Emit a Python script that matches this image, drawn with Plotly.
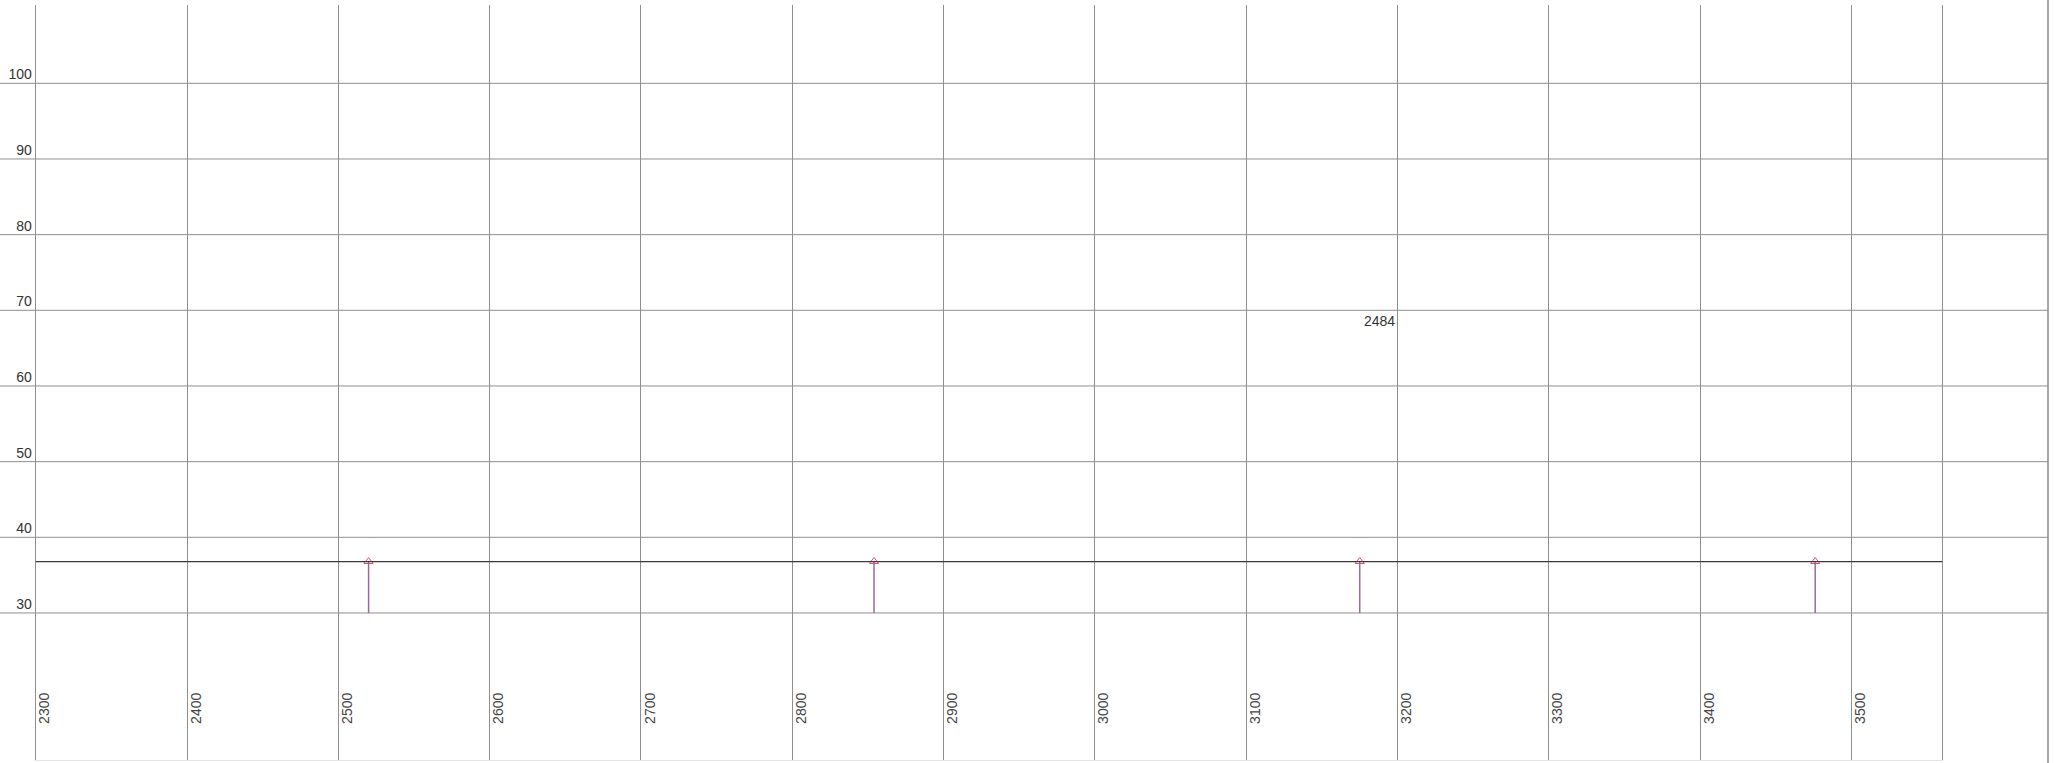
import plotly.graph_objects as go

# Frequency axis (cm-1) and intensity axis ticks
x_ticks = [2300, 2400, 2500, 2600, 2700, 2800, 2900, 3000, 3100, 3200, 3300, 3400, 3500]
x_range = [2300, 3560]
y_ticks = [30, 40, 50, 60, 70, 80, 90, 100]
y_range = [10.57, 110.35]

# Detected peaks: position and height, drawn as stems from the baseline
peak_x = [2520, 2854, 3175, 3476]
peak_y = [36.8, 36.8, 36.8, 36.8]
baseline = 30
threshold = 36.8

# Label shown in the panel
note_text = "2484"
note_x = 3200
note_y = 70

W, H = 2056, 763
FONT = "Liberation Sans, Arial, sans-serif"
GRID = "#8f8f8f"

fig = go.Figure()

fig.add_trace(go.Scatter(
    x=peak_x,
    y=peak_y,
    mode="markers",
    marker=dict(symbol="triangle-up-open", size=8, color="#d9546e",
                line=dict(width=1, color="#d9546e")),
    error_y=dict(type="data", symmetric=False,
                 array=[0] * len(peak_y),
                 arrayminus=[v - baseline for v in peak_y],
                 color="#9a6b98", thickness=1.5, width=0),
    showlegend=False,
    hoverinfo="x+y",
))

# Threshold level across the whole x range
fig.add_hline(y=threshold, line=dict(color="#3a3a3a", width=1.2), layer="above")

# Horizontal grid lines running across the full width
for v in y_ticks:
    fig.add_shape(type="line", xref="paper", yref="y",
                  x0=0, x1=2048 / W, y0=v, y1=v,
                  line=dict(color=GRID, width=1), layer="below")

# Outer right border
fig.add_shape(type="line", xref="paper", yref="paper",
              x0=2048 / W, x1=2048 / W, y0=0, y1=1,
              line=dict(color="#8a8a8a", width=1.5))

fig.add_annotation(x=note_x, y=note_y, xref="x", yref="y",
                   text=note_text, showarrow=False,
                   xanchor="right", yanchor="top", xshift=-1, yshift=-1,
                   font=dict(family=FONT, size=14, color="#333333"))

x_dom = [35.7 / W, 1942.3 / W]
y_dom = [(H - 760) / H, (H - 5) / H]

fig.update_layout(
    width=W, height=H,
    margin=dict(l=0, r=0, t=0, b=0),
    paper_bgcolor="white",
    plot_bgcolor="white",
    font=dict(family=FONT, size=14, color="#333333"),
    showlegend=False,
    xaxis=dict(
        domain=x_dom, range=x_range,
        tickmode="array", tickvals=x_ticks,
        ticktext=[str(t) for t in x_ticks],
        tickangle=-90,
        ticklabelposition="inside",
        ticklabelstandoff=31,
        ticklabelshift=9,
        ticks="",
        showgrid=True, gridcolor=GRID, gridwidth=1,
        zeroline=False,
        showline=True, linecolor="#e4e4e4", linewidth=1,
    ),
    yaxis=dict(
        domain=y_dom, range=y_range,
        tickmode="array", tickvals=y_ticks,
        ticks="",
        ticklabelshift=-9,
        showgrid=False, zeroline=False,
        showline=True, mirror=True, linecolor=GRID, linewidth=1,
    ),
    yaxis2=dict(
        overlaying="y", anchor="free", position=2048 / W, side="left",
        range=y_range, tickmode="array", tickvals=y_ticks,
        ticks="",
        ticklabelshift=-9,
        showgrid=False, zeroline=False, showline=False,
    ),
)

fig.write_html("out.html")
